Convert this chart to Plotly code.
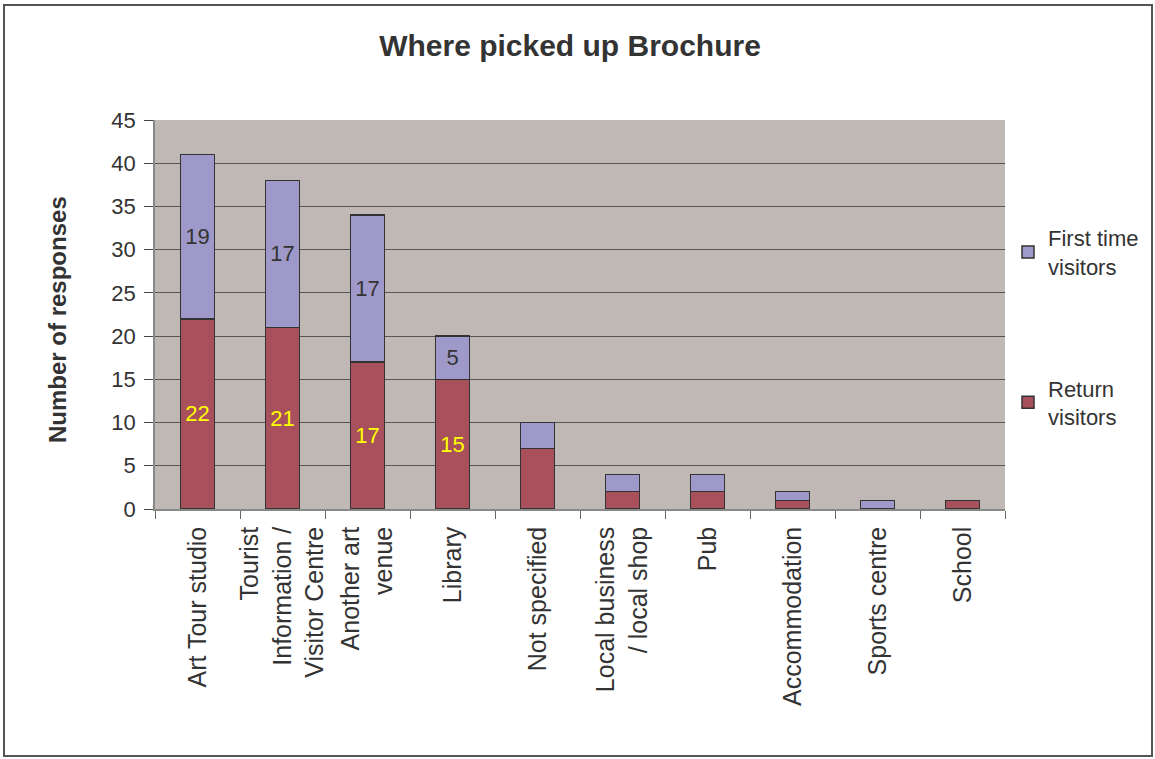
import plotly.graph_objects as go

categories = [
    "Art Tour studio",
    "Tourist<br>Information /<br>Visitor Centre",
    "Another art<br>venue",
    "Library",
    "Not specified",
    "Local business<br>/ local shop",
    "Pub",
    "Accommodation",
    "Sports centre",
    "School",
]
return_visitors = [22, 21, 17, 15, 7, 2, 2, 1, 0, 1]
first_time_visitors = [19, 17, 17, 5, 3, 2, 2, 1, 1, 0]
labelled_bars = 4  # only the largest sources carry value labels

W, H = 1155, 759
L, R, T, B = 155, 150, 120, 250
pw, ph = W - L - R, H - T - B

def px_x(p):
    return (p - L) / pw

def px_y(p):
    return (H - B - p) / ph

font_family = "Liberation Sans, Arial, sans-serif"
ink = "#333333"
outline = dict(color="#333333", width=1.5)

ret_text = [str(v) if i < labelled_bars else "" for i, v in enumerate(return_visitors)]
first_text = [str(v) if i < labelled_bars else "" for i, v in enumerate(first_time_visitors)]

fig = go.Figure()
fig.add_trace(go.Bar(
    x=categories, y=return_visitors, name="Return<br>visitors",
    marker=dict(color="#A8505C", line=outline),
    text=ret_text, textposition="inside", insidetextanchor="middle",
    textangle=0, textfont=dict(color="#FFFF00", size=22, family=font_family),
    legendgroup="ret", legendrank=2,
))
fig.add_trace(go.Bar(
    x=categories, y=first_time_visitors, name="First time<br>visitors",
    marker=dict(color="#9F99C9", line=outline),
    text=first_text, textposition="inside", insidetextanchor="middle",
    textangle=0, textfont=dict(color=ink, size=22, family=font_family),
    legendgroup="first", legendrank=1,
))

fig.update_layout(
    width=W, height=H,
    margin=dict(l=L, r=R, t=T, b=B, autoexpand=False),
    barmode="stack", bargap=0.6,
    paper_bgcolor="white", plot_bgcolor="#C0B8B5",
    font=dict(family=font_family, size=22, color=ink),
    title=dict(text="<b>Where picked up Brochure</b>", x=px_x(570), xref="paper",
               xanchor="center", y=1 - 45 / H, yanchor="middle",
               font=dict(size=30, color=ink)),
    uniformtext=dict(minsize=22, mode="show"),
    legend=dict(x=px_x(1008), xanchor="left", y=px_y(217), yanchor="top",
                traceorder="grouped", tracegroupgap=90,
                font=dict(size=22, color=ink), bgcolor="rgba(0,0,0,0)",
                itemwidth=30),
    showlegend=True,
)
fig.update_xaxes(
    tickangle=-90, tickson="boundaries", ticks="outside", ticklen=8,
    tickcolor="#666666", showline=True, linecolor="#888888", linewidth=1.5,
    tickfont=dict(size=25, color=ink), showgrid=False, ticklabelstandoff=6,
)
fig.update_yaxes(
    range=[0, 45], dtick=5, ticks="outside", ticklen=9, tickcolor="#444444",
    showline=True, linecolor="#888888", linewidth=1.5,
    gridcolor="#555555", gridwidth=1, zeroline=False,
    tickfont=dict(size=22, color=ink), ticklabelstandoff=4,
)

# y-axis title
fig.add_annotation(text="<b>Number of responses</b>", xref="paper", yref="paper",
                   x=px_x(57), y=px_y(320), textangle=-90, showarrow=False,
                   xanchor="center", yanchor="middle",
                   font=dict(size=24, color=ink))

# outer chart frame
fig.add_shape(type="rect", xref="paper", yref="paper",
              x0=px_x(4), x1=px_x(1152), y0=px_y(756), y1=px_y(5),
              line=dict(color="#555555", width=2), fillcolor="rgba(0,0,0,0)",
              layer="below")

fig.write_html("out.html")
